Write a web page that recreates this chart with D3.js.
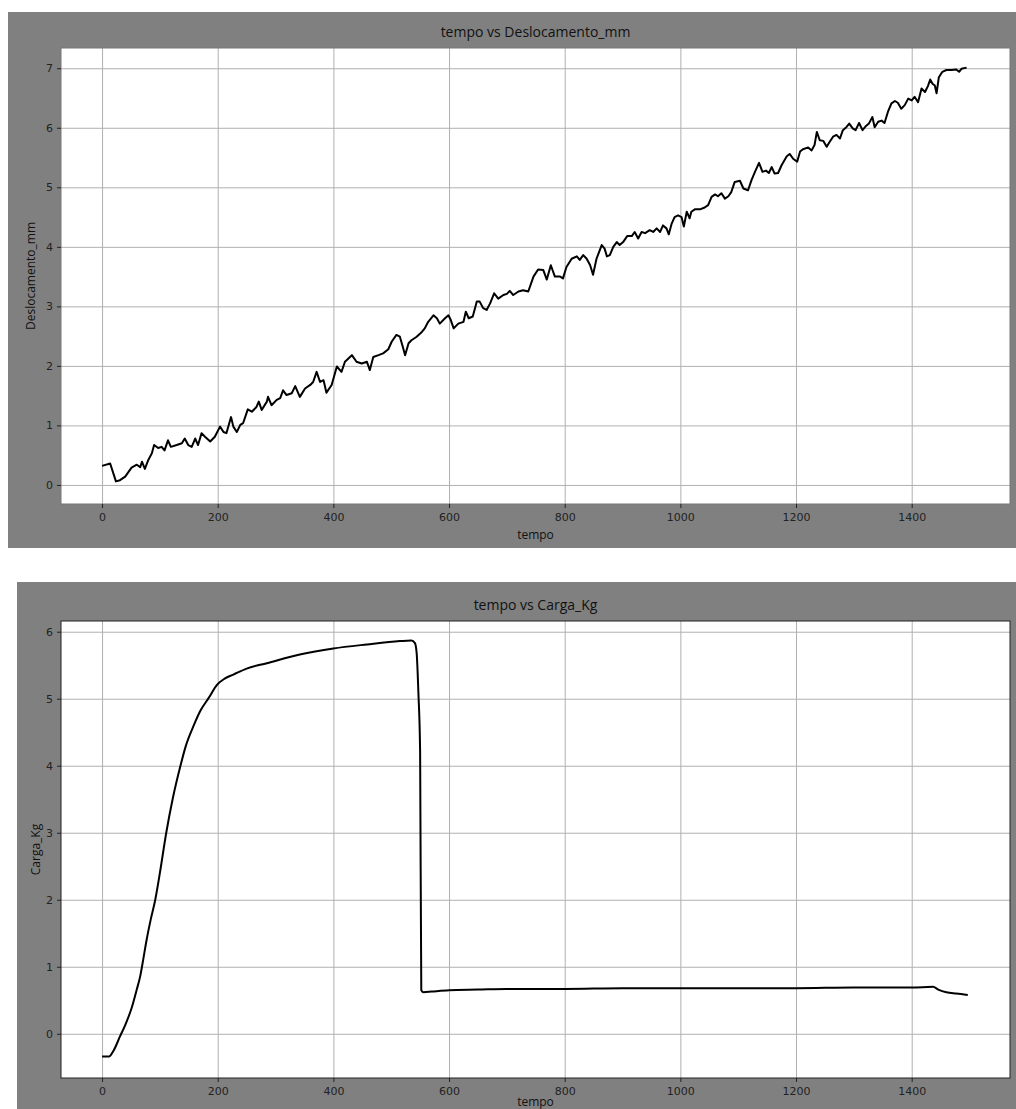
<!DOCTYPE html>
<html>
<head>
<meta charset="utf-8">
<script src="https://cdn.jsdelivr.net/npm/d3@7"></script>
<style>
  body { margin: 0; background: #fff; }
  svg { display: block; }
  .tick text { font-family: "DejaVu Sans", sans-serif; font-size: 11px; fill: #222; }
  .grid line { stroke: #b0b0b0; stroke-width: 1; }
  .grid path { display: none; }
</style>
</head>
<body>
<svg id="chart" width="1016" height="1109"></svg>
<script>
// tempo vs Deslocamento_mm
var tempoDesloc = [0,14,24,31,40,51,60,66,69,74,80,86,90,97,103,108,114,119,129,138,143,149,155,161,166,172,178,187,195,204,210,215,223,227,233,239,244,252,259,267,271,276,285,287,293,302,308,313,319,328,334,342,351,360,365,371,377,383,388,397,406,414,420,432,440,449,458,463,469,478,486,495,501,509,515,520,524,530,535,544,553,558,564,573,579,584,593,599,603,608,616,625,629,634,641,648,653,659,665,671,678,685,694,700,705,711,720,728,737,746,754,763,769,776,783,792,797,803,812,821,826,832,838,844,849,855,864,869,873,878,884,890,895,901,908,916,921,927,933,939,947,953,959,965,970,976,980,985,990,996,1002,1006,1011,1016,1019,1025,1034,1042,1048,1054,1060,1065,1071,1077,1083,1088,1094,1103,1109,1117,1123,1129,1136,1142,1148,1153,1158,1163,1169,1175,1184,1189,1195,1202,1207,1212,1221,1227,1232,1236,1241,1247,1253,1258,1264,1270,1276,1281,1287,1292,1298,1303,1309,1315,1321,1326,1332,1336,1342,1348,1353,1359,1365,1371,1376,1382,1388,1394,1400,1405,1411,1417,1423,1428,1432,1436,1440,1443,1447,1453,1460,1469,1477,1482,1486,1495];
var deslocamento = [0.32,0.36,0.06,0.08,0.14,0.29,0.34,0.30,0.39,0.27,0.42,0.53,0.67,0.62,0.64,0.58,0.75,0.64,0.67,0.70,0.78,0.67,0.64,0.78,0.67,0.87,0.81,0.73,0.81,0.98,0.89,0.87,1.14,0.98,0.89,1.01,1.04,1.27,1.23,1.31,1.40,1.26,1.40,1.48,1.34,1.43,1.46,1.59,1.51,1.54,1.66,1.48,1.62,1.68,1.73,1.90,1.73,1.76,1.55,1.68,1.99,1.90,2.07,2.18,2.07,2.04,2.07,1.93,2.15,2.18,2.21,2.28,2.41,2.52,2.49,2.32,2.18,2.38,2.43,2.49,2.57,2.63,2.74,2.85,2.80,2.71,2.80,2.85,2.77,2.63,2.71,2.74,2.91,2.80,2.83,3.08,3.08,2.97,2.94,3.05,3.22,3.13,3.19,3.21,3.26,3.19,3.25,3.27,3.25,3.50,3.62,3.61,3.45,3.69,3.50,3.50,3.47,3.66,3.80,3.84,3.78,3.86,3.80,3.69,3.53,3.80,4.03,3.97,3.84,3.86,4.00,4.08,4.03,4.08,4.18,4.18,4.25,4.14,4.25,4.23,4.28,4.25,4.31,4.25,4.36,4.31,4.21,4.39,4.50,4.53,4.50,4.34,4.59,4.48,4.59,4.63,4.63,4.66,4.70,4.84,4.88,4.85,4.90,4.81,4.85,4.92,5.09,5.11,4.98,4.95,5.12,5.26,5.41,5.26,5.28,5.24,5.34,5.23,5.24,5.37,5.52,5.56,5.48,5.43,5.60,5.64,5.67,5.62,5.71,5.93,5.79,5.78,5.68,5.76,5.85,5.88,5.82,5.96,6.01,6.07,5.99,5.96,6.08,5.96,6.03,6.07,6.18,6.01,6.10,6.12,6.08,6.27,6.41,6.45,6.42,6.32,6.38,6.49,6.46,6.52,6.43,6.66,6.60,6.70,6.81,6.74,6.71,6.58,6.85,6.94,6.97,6.97,6.98,6.94,6.99,7.01];

// tempo vs Carga_Kg
var tempoCarga = [0,12,20,31,40,51,60,66,71,77,84,92,100,111,122,135,145,158,170,185,198,212,227,250,285,342,400,458,515,535,541,544,547,550,552,556,570,600,650,700,800,900,1000,1100,1200,1300,1400,1437,1446,1460,1477,1497];
var carga = [-0.34,-0.34,-0.25,-0.04,0.13,0.38,0.66,0.86,1.10,1.40,1.70,2.00,2.40,3.00,3.50,3.98,4.30,4.59,4.82,5.02,5.20,5.30,5.36,5.45,5.53,5.66,5.75,5.81,5.86,5.87,5.83,5.68,5.09,4.20,0.65,0.62,0.63,0.65,0.66,0.67,0.67,0.68,0.68,0.68,0.68,0.69,0.69,0.70,0.66,0.62,0.60,0.58];

var xTicks = [0,200,400,600,800,1000,1200,1400];
var deslocTicks = [0,1,2,3,4,5,6,7];
var cargaTicks = [0,1,2,3,4,5,6];

var svg = d3.select("#chart");

function drawPanel(p) {
    // grey figure background
    svg.append("rect")
        .attr("x", p.bg[0]).attr("y", p.bg[1])
        .attr("width", p.bg[2]).attr("height", p.bg[3])
        .attr("fill", "#808080");

    var x = d3.scaleLinear().domain([-71, 1570]).range([p.left, p.right]);
    var y = d3.scaleLinear().domain(p.yDomain).range([p.bottom, p.top]);
    var w = p.right - p.left, h = p.bottom - p.top;

    svg.append("rect")
        .attr("x", p.left).attr("y", p.top)
        .attr("width", w).attr("height", h)
        .attr("fill", "#fff");

    svg.append("g").attr("class", "grid")
        .attr("transform", "translate(0," + p.bottom + ")")
        .call(d3.axisBottom(x).tickValues(xTicks).tickSize(-h).tickFormat(""));
    svg.append("g").attr("class", "grid")
        .attr("transform", "translate(" + p.left + ",0)")
        .call(d3.axisLeft(y).tickValues(p.yTicks).tickSize(-w).tickFormat(""));

    var line = d3.line()
        .x(function(d, i) { return x(p.tx[i]); })
        .y(function(d) { return y(d); })
        .curve(p.curve);

    svg.append("path")
        .datum(p.values)
        .attr("fill", "none")
        .attr("stroke", "#000")
        .attr("stroke-width", 2)
        .attr("stroke-linejoin", "round")
        .attr("d", line);

    // spines
    svg.append("rect")
        .attr("x", p.left).attr("y", p.top)
        .attr("width", w).attr("height", h)
        .attr("fill", "none")
        .attr("stroke", p.spine)
        .attr("stroke-width", 1);

    var xa = svg.append("g")
        .attr("transform", "translate(0," + p.bottom + ")")
        .call(d3.axisBottom(x).tickValues(xTicks).tickSize(4).tickPadding(5).tickFormat(d3.format("d")));
    var ya = svg.append("g")
        .attr("transform", "translate(" + p.left + ",0)")
        .call(d3.axisLeft(y).tickValues(p.yTicks).tickSize(4).tickPadding(4).tickFormat(d3.format("d")));
    [xa, ya].forEach(function(a) {
        a.select(".domain").remove();
        a.selectAll(".tick line").attr("stroke", "#222");
    });

    svg.append("text")
        .attr("x", (p.left + p.right) / 2).attr("y", p.top - 11)
        .attr("text-anchor", "middle")
        .style("font-family", "'Open Sans', sans-serif")
        .style("font-size", "14px")
        .attr("fill", "#111")
        .text(p.title);

    svg.append("text")
        .attr("x", (p.left + p.right) / 2).attr("y", p.xlabY)
        .attr("text-anchor", "middle")
        .style("font-family", "'Open Sans', sans-serif")
        .style("font-size", "12px")
        .attr("fill", "#111")
        .text("tempo");

    svg.append("text")
        .attr("transform", "translate(" + p.ylabX + "," + (p.top + p.bottom) / 2 + ") rotate(-90)")
        .attr("text-anchor", "middle")
        .style("font-family", "'Open Sans', sans-serif")
        .style("font-size", "12px")
        .attr("fill", "#111")
        .text(p.ylabel);
}

drawPanel({
    bg: [8, 12, 1008, 536],
    left: 61, right: 1010, top: 48, bottom: 504,
    yDomain: [-0.32, 7.34], yTicks: deslocTicks,
    tx: tempoDesloc, values: deslocamento, curve: d3.curveLinear,
    spine: "#777",
    title: "tempo vs Deslocamento_mm", ylabel: "Deslocamento_mm", ylabX: 35, xlabY: 539
});

drawPanel({
    bg: [17, 582, 999, 527],
    left: 61, right: 1010, top: 621, bottom: 1078,
    yDomain: [-0.66, 6.16], yTicks: cargaTicks,
    tx: tempoCarga, values: carga, curve: d3.curveMonotoneX,
    spine: "#222",
    title: "tempo vs Carga_Kg", ylabel: "Carga_Kg", ylabX: 40, xlabY: 1106
});
</script>
</body>
</html>
